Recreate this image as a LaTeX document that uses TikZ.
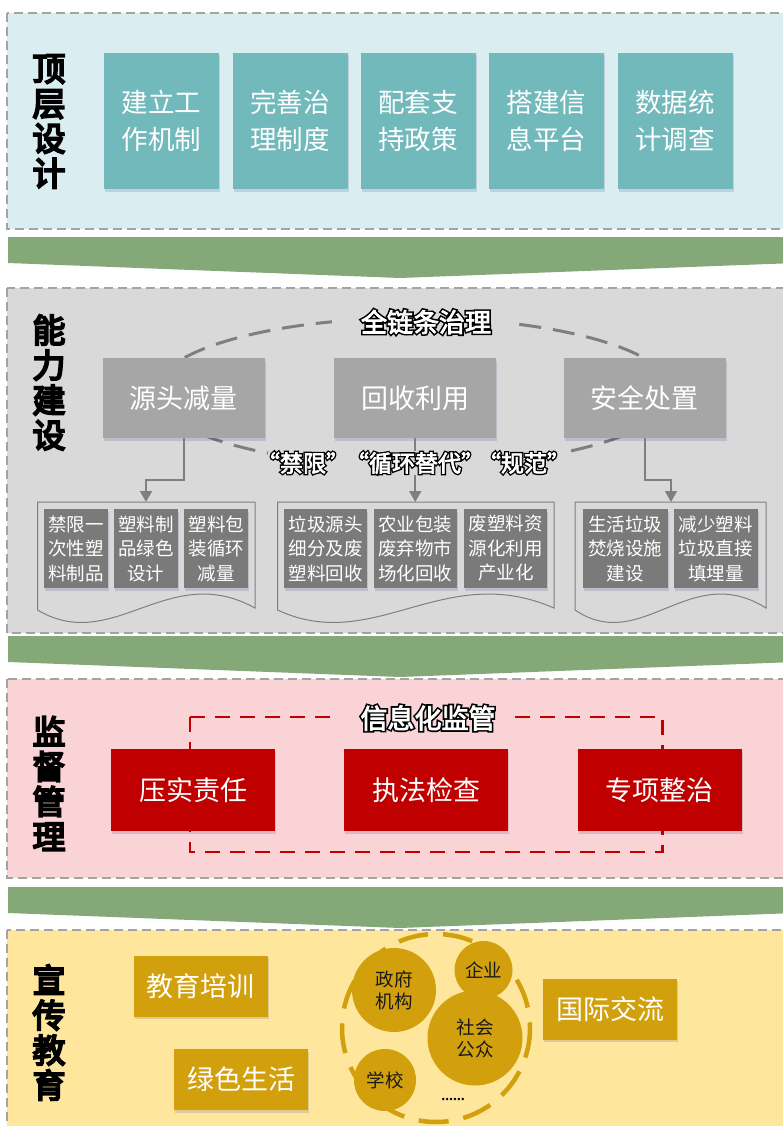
\documentclass[tikz,border=0pt]{standalone}
\usepackage{fontspec}
\setmainfont{Noto Sans CJK SC}
\newfontfamily\heavyfont[FakeBold=6]{Noto Sans CJK SC}
\newfontfamily\dotfont[FakeBold=4]{Noto Sans CJK SC}
\newfontfamily\olblack[FakeBold=15]{Noto Sans CJK SC}
\newfontfamily\olwhite[FakeBold=3]{Noto Sans CJK SC}
\usetikzlibrary{arrows.meta,shadows}
\definecolor{secline}{HTML}{A3A3A3}
\definecolor{bgblue}{HTML}{DAEDF0}
\definecolor{bggray}{HTML}{D9D9D9}
\definecolor{bgpink}{HTML}{F9D3D5}
\definecolor{bgyellow}{HTML}{FEE69D}
\definecolor{bandgreen}{HTML}{85A878}
\definecolor{tealbox}{HTML}{72B9BB}
\definecolor{graybox}{HTML}{A6A6A6}
\definecolor{darkbox}{HTML}{7A7A7A}
\definecolor{redbox}{HTML}{C00000}
\definecolor{goldbox}{HTML}{D2A00C}
\definecolor{linegray}{HTML}{7F7F7F}
% outlined text: a heavy black copy under a white copy
\newcommand\outlinetext[4]{%
  \node[font=\olblack\fontsize{#3}{#3}\selectfont,text=black,inner sep=0pt] (#1k) at (#2) {#4};
  \node[font=\olwhite\fontsize{#3}{#3}\selectfont,text=white,inner sep=0pt] (#1) at (#2) {#4};
}
\begin{document}
\begin{tikzpicture}[x=1pt,y=-1pt,
  sect/.style={draw=secline,line width=1.2pt,dash pattern=on 9pt off 5pt},
  bandshape/.style={fill=bandgreen,draw=none},
  shad/.style={drop shadow={shadow xshift=1pt,shadow yshift=-2.5pt,fill=black!60!blue,opacity=0.12}},
  tealnode/.style={shad,fill=tealbox,text=white,minimum width=115pt,minimum height=136pt,inner sep=0pt,align=center,font=\fontsize{26.5}{37}\selectfont},
  mainbox/.style={shad,fill=graybox,text=white,minimum width=162pt,minimum height=80pt,inner sep=0pt,font=\fontsize{27}{30}\selectfont},
  smallbox/.style={shad,fill=darkbox,text=white,minimum height=79pt,inner sep=0pt,align=center,font=\fontsize{18.5}{24.5}\selectfont},
  rednode/.style={shad,fill=redbox,text=white,minimum width=164pt,minimum height=82pt,inner sep=0pt,font=\fontsize{27}{30}\selectfont},
  goldnode/.style={shad,fill=goldbox,text=white,minimum width=134pt,minimum height=61pt,inner sep=0pt,font=\fontsize{27}{30}\selectfont},
  circnode/.style={circle,fill=goldbox,text=black!90,inner sep=0pt,align=center,font=\fontsize{18.5}{22}\selectfont},
  sidelabel/.style={align=center,font=\heavyfont\fontsize{33}{35}\selectfont,inner sep=0pt},
  conn/.style={draw=linegray,line width=1.6pt,-{Triangle[width=12pt,length=11pt]}},
  docshape/.style={draw=linegray,line width=1pt,fill=bggray}
]
\useasboundingbox (0,0) rectangle (783,1126);
\fill[white] (0,0) rectangle (783,1126);

% ---------- sections and bands ----------
\draw[sect,fill=bgblue] (7,13) rectangle (800,229);
\fill[bandshape] (8,237) -- (795,237) -- (795,263) -- (400,278) -- (8,263) -- cycle;
\draw[sect,fill=bggray] (7,288) rectangle (800,633);
\fill[bandshape] (8,636) -- (795,636) -- (795,662) -- (400,677) -- (8,662) -- cycle;
\draw[sect,fill=bgpink] (7,679) rectangle (800,878);
\fill[bandshape] (8,887) -- (795,887) -- (795,913) -- (400,928) -- (8,913) -- cycle;
\draw[sect,fill=bgyellow] (7,930) rectangle (800,1140);

% ---------- side labels ----------
\node[sidelabel] (l1) at (49,121.5) {顶\\层\\设\\计};
\node[sidelabel] (l2) at (49,382.5) {能\\力\\建\\设};
\node[sidelabel] (l3) at (49,783.5) {监\\督\\管\\理};
\node[sidelabel] (l4) at (49,1032.5) {宣\\传\\教\\育};

% ---------- section 1 ----------
\node[tealnode] (t1) at (161.5,121) {建立工\\作机制};
\node[tealnode] (t2) at (290,121) {完善治\\理制度};
\node[tealnode] (t3) at (418,121) {配套支\\持政策};
\node[tealnode] (t4) at (546.5,121) {搭建信\\息平台};
\node[tealnode] (t5) at (675,121) {数据统\\计调查};

% ---------- section 2 ----------
\draw[linegray,line width=3pt,dash pattern=on 22pt off 12pt] (414,392) ellipse [x radius=259, y radius=74];
\node[fill=bggray,minimum width=185pt,minimum height=26pt,inner sep=0pt] (titlebg) at (424,322) {};
\node[fill=bggray,minimum width=292pt,minimum height=26pt,inner sep=0pt] (labbg) at (414,465) {};

\node[mainbox] (src) at (183.75,398) {源头减量};
\node[mainbox] (rec) at (415.25,398) {回收利用};
\node[mainbox] (safe) at (644.75,398) {安全处置};

\coordinate (a1) at (146,502);
\coordinate (a2) at (415.25,502);
\coordinate (a3) at (671,502);
\draw[conn] (src.south) -- ++(0,42) -| (a1);
\draw[conn] (rec.south) -- (a2);
\draw[conn] (safe.south) -- ++(0,42) -| (a3);

\outlinetext{ttl}{426,322}{26}{全链条治理}
\node[fill=bggray,minimum width=124pt,minimum height=24pt,inner sep=0pt] (q2bg) at (415,463) {};
\outlinetext{q1}{303,463}{23}{“禁限”}
\outlinetext{q2}{415,463}{23}{“循环替代”}
\outlinetext{q3}{524,463}{23}{“规范”}

\draw[docshape] (37.5,502) -- (255,502) -- (255,608) .. controls (168,560) and (113.6,655) .. (37.5,610) -- cycle;
\draw[docshape] (277.5,502) -- (554,502) -- (554,608) .. controls (443.4,560) and (374.3,655) .. (277.5,610) -- cycle;
\draw[docshape] (575,502) -- (766,502) -- (766,608) .. controls (689.6,560) and (641.9,655) .. (575,610) -- cycle;

\node[smallbox,minimum width=64pt] (s11) at (75.75,548.5) {禁限一\\次性塑\\料制品};
\node[smallbox,minimum width=64pt] (s12) at (145.75,548.5) {塑料制\\品绿色\\设计};
\node[smallbox,minimum width=64pt] (s13) at (216.25,548.5) {塑料包\\装循环\\减量};
\node[smallbox,minimum width=83pt] (s21) at (325.75,548.5) {垃圾源头\\细分及废\\塑料回收};
\node[smallbox,minimum width=83pt] (s22) at (415.25,548.5) {农业包装\\废弃物市\\场化回收};
\node[smallbox,minimum width=83pt] (s23) at (505.75,548.5) {废塑料资\\源化利用\\产业化};
\node[smallbox,minimum width=85pt] (s31) at (625,548.5) {生活垃圾\\焚烧设施\\建设};
\node[smallbox,minimum width=84pt] (s32) at (715.75,548.5) {减少塑料\\垃圾直接\\填埋量};

% ---------- section 3 ----------
\draw[redbox,line width=2.5pt,dash pattern=on 15pt off 10pt] (190,717) rectangle (662.5,852);
\node[fill=bgpink,minimum width=172pt,minimum height=26pt,inner sep=0pt] (ttl3bg) at (423,718) {};
\outlinetext{ttl3}{428,718}{27}{信息化监管}
\node[rednode] (r1) at (193,790) {压实责任};
\node[rednode] (r2) at (426.25,790) {执法检查};
\node[rednode] (r3) at (659.5,790) {专项整治};

% ---------- section 4 ----------
\node[goldnode] (y1) at (200.5,986) {教育培训};
\node[goldnode] (y2) at (241,1079.5) {绿色生活};
\node[goldnode] (y3) at (610,1009) {国际交流};
\draw[goldbox,line width=4.5pt,dash pattern=on 30pt off 15pt] (436,1028) circle [radius=94];
\node[circnode,minimum size=84pt] (c1) at (394,990) {政府\\机构};
\node[circnode,minimum size=58pt] (c2) at (483.5,970) {企业};
\node[circnode,minimum size=95pt] (c3) at (475,1038) {社会\\公众};
\node[circnode,minimum size=62pt] (c4) at (385,1080) {学校};
\node[font=\dotfont\fontsize{14}{14}\selectfont,inner sep=0pt] (dots) at (453,1099) {......};
\end{tikzpicture}
\end{document}
